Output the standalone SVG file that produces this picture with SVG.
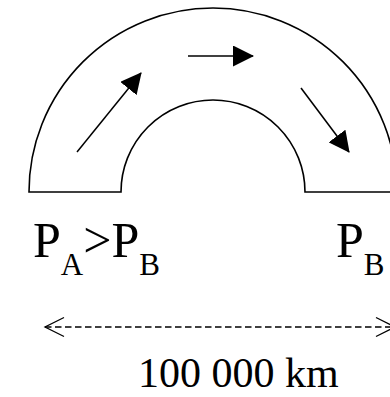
<svg xmlns="http://www.w3.org/2000/svg" width="390" height="397" viewBox="0 0 390 397">
<style>
.shape{fill:#fff;stroke:#000;stroke-width:1.6}
.flow{stroke:#000;stroke-width:1.5;fill:none;marker-end:url(#head)}
.dim{stroke:#000;stroke-width:1.3;stroke-dasharray:6.5 3.5;fill:none;marker-start:url(#chev);marker-end:url(#chev)}
.lbl{font-family:"Liberation Serif","Times New Roman",serif;fill:#000}
</style>
<defs>
<marker id="head" markerUnits="userSpaceOnUse" viewBox="0 0 21 21" markerWidth="21" markerHeight="21" refX="20" refY="10.5" orient="auto">
<path d="M0,0 L21,10.5 L0,21 z" fill="#000"/>
</marker>
<marker id="chev" markerUnits="userSpaceOnUse" viewBox="-21 -12 24 24" markerWidth="24" markerHeight="24" refX="0" refY="0" orient="auto-start-reverse" overflow="visible">
<path d="M-19,-9.5 L0,0 L-19,9.5" fill="none" stroke="#000" stroke-width="1.3"/>
</marker>
</defs>
<g id="channel">
<path class="shape" d="M29,192 A184,184 0 0 1 397,192 L305,192 A92,92 0 0 0 121,192 Z"/>
</g>
<g id="connectors">
<line class="flow" x1="77" y1="152" x2="141" y2="73"/>
<line class="flow" x1="188" y1="56" x2="253" y2="56"/>
<line class="flow" x1="301" y1="88" x2="349" y2="152"/>
<line class="dim" x1="45" y1="327" x2="395" y2="327"/>
</g>
<g id="label-pa">
<text class="lbl" x="33" y="257" font-size="50">P<tspan font-size="31" dy="18">A</tspan><tspan font-size="50" dy="-18">&gt;P</tspan><tspan font-size="31" dy="18">B</tspan></text>
</g>
<g id="label-pb">
<text class="lbl" x="336" y="257" font-size="50">P<tspan font-size="31" dy="18">B</tspan></text>
</g>
<g id="label-dist">
<text class="lbl" x="138" y="387" font-size="42">100 000 km</text>
</g>
</svg>
